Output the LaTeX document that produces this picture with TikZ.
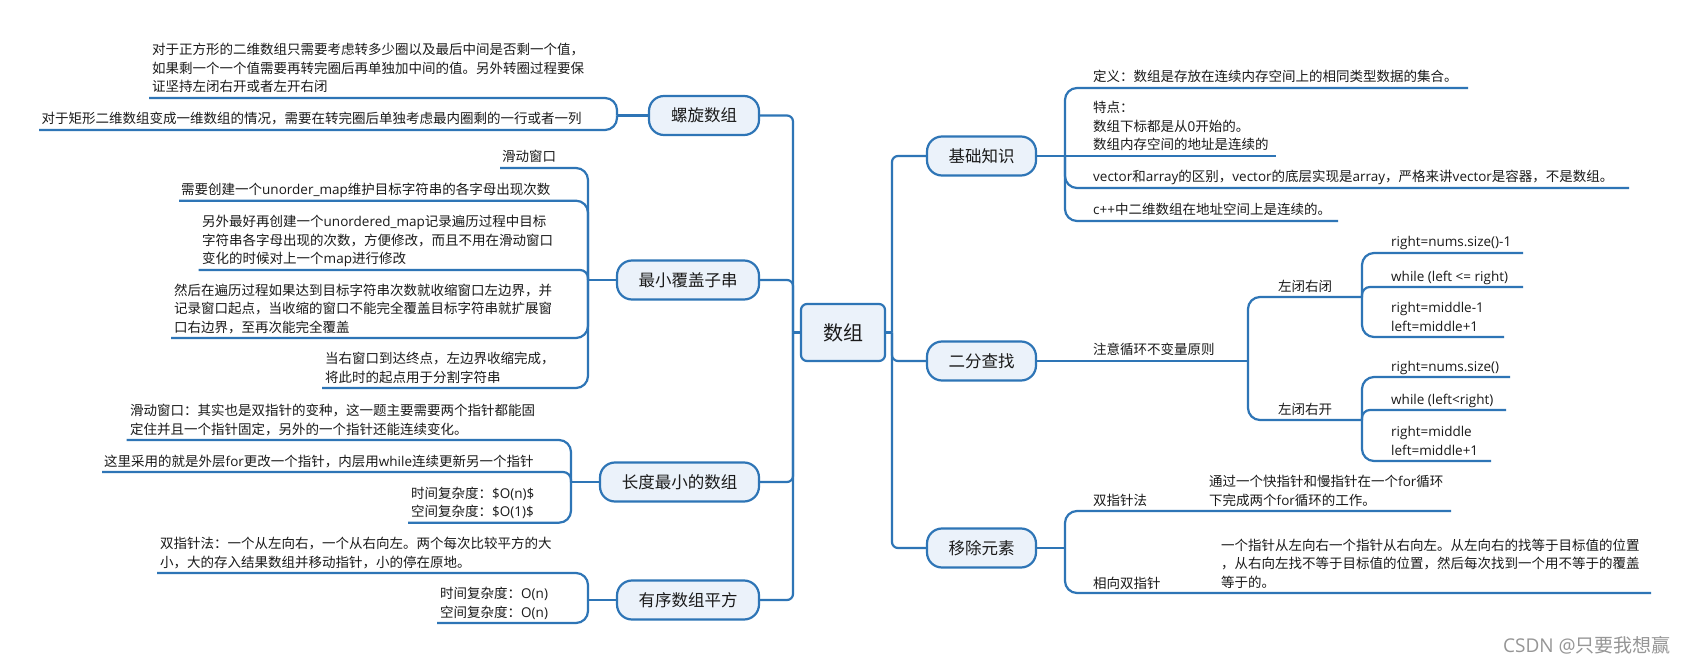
\documentclass[tikz,border=0pt]{standalone}
\usepackage{fontspec}
\setmainfont{Open Sans}
\newfontfamily\latf{Open Sans}
\newfontfamily\cjkf{Noto Sans CJK SC}
\definecolor{lineblue}{RGB}{46,117,182}
\definecolor{nodefill}{RGB}{235,242,250}
\definecolor{txt}{RGB}{26,26,26}
\definecolor{wmgray}{RGB}{150,150,150}
\newcommand\mlines[1]{\vbox{\baselineskip=18.5pt\lineskiplimit=-20pt\lineskip=0pt\halign{##\hfil\cr#1\crcr}}}
\makeatletter
\count@="4E00
\loop\XeTeXcharclass\count@=1 \advance\count@ by 1 \ifnum\count@<"A000 \repeat
\makeatother
\XeTeXcharclass"FF0C=1 \XeTeXcharclass"3002=1 \XeTeXcharclass"FF1A=1 \XeTeXcharclass"3001=1
\XeTeXinterchartoks 0 1 = {\cjkf}
\XeTeXinterchartoks 4095 1 = {\cjkf}
\XeTeXinterchartoks 1 0 = {\latf}
\XeTeXinterchartoks 4095 0 = {\latf}
\tikzset{
  conn/.style={draw=lineblue, line width=2.2pt},
  mainnode/.style={draw=lineblue, line width=2.2pt, fill=nodefill, rounded corners=15pt,
    minimum height=39pt, inner sep=0pt, text=txt, font=\cjkf\fontsize{16.5}{20}\selectfont},
  rootnode/.style={mainnode, rounded corners=6pt, minimum width=84pt, minimum height=57pt,
    font=\cjkf\fontsize{20}{24}\selectfont},
  leaf/.style={anchor=base west, inner sep=0pt, text=txt, font=\cjkf\fontsize{13.5}{18.5}\selectfont},
  wmark/.style={anchor=west, inner sep=0pt, text=wmgray, font=\cjkf\fontsize{19}{22}\selectfont},
}
\begin{document}
\begin{tikzpicture}[x=1pt,y=-1pt]
\XeTeXinterchartokenstate=1
\fill[white] (0,0) rectangle (1690,663);
\useasboundingbox (0,0) rectangle (1690,663);

% main nodes
\node[rootnode] (c) at (843,332.5) {数组};
\node[mainnode, minimum width=110pt] (l1) at (704,115.5) {螺旋数组};
\node[mainnode, minimum width=142pt] (l2) at (688,280) {最小覆盖子串};
\node[mainnode, minimum width=159pt] (l3) at (679.5,482) {长度最小的数组};
\node[mainnode, minimum width=142pt] (l4) at (688,600) {有序数组平方};
\node[mainnode, minimum width=109pt] (r1) at (981.5,156) {基础知识};
\node[mainnode, minimum width=109pt] (r2) at (981.5,361) {二分查找};
\node[mainnode, minimum width=109pt] (r3) at (981.5,548) {移除元素};

% trunks
\coordinate (tl) at (793,332.5);
\coordinate (tr) at (892,332.5);
\draw[conn] (c.west) -- (tl);
\draw[conn] (c.east) -- (tr);
\foreach \n in {l1,l2,l3,l4}{\draw[conn, rounded corners=6pt] (\n.east) -- (\n.east -| tl) -- (tl);}
\foreach \n in {r1,r2,r3}{\draw[conn, rounded corners=6pt] (\n.west) -- (\n.west -| tr) -- (tr);}

% ---------- left leaves ----------
\node[leaf] (a1) at (152,92) {\mlines{对于正方形的二维数组只需要考虑转多少圈以及最后中间是否剩一个值，\cr
如果剩一个一个值需要再转完圈后再单独加中间的值。另外转圈过程要保\cr
证坚持左闭右开或者左开右闭}};
\node[leaf] (a2) at (41.5,124) {\mlines{对于矩形二维数组变成一维数组的情况，需要在转完圈后单独考虑最内圈剩的一行或者一列}};

\node[leaf] (b1) at (502,162) {\mlines{滑动窗口}};
\node[leaf] (b2) at (181,194.7) {\mlines{需要创建一个unorder\_map维护目标字符串的各字母出现次数}};
\node[leaf] (b3) at (202,264) {\mlines{另外最好再创建一个unordered\_map记录遍历过程中目标\cr
字符串各字母出现的次数，方便修改，而且不用在滑动窗口\cr
变化的时候对上一个map进行修改}};
\node[leaf] (b4) at (174,332) {\mlines{然后在遍历过程如果达到目标字符串次数就收缩窗口左边界，并\cr
记录窗口起点，当收缩的窗口不能完全覆盖目标字符串就扩展窗\cr
口右边界，至再次能完全覆盖}};
\node[leaf] (b5) at (325,382) {\mlines{当右窗口到达终点，左边界收缩完成，\cr
将此时的起点用于分割字符串}};

\node[leaf] (d1) at (130,434) {\mlines{滑动窗口：其实也是双指针的变种，这一题主要需要两个指针都能固\cr
定住并且一个指针固定，另外的一个指针还能连续变化。}};
\node[leaf] (d2) at (104,466) {\mlines{这里采用的就是外层for更改一个指针，内层用while连续更新另一个指针}};
\node[leaf] (d3) at (411,516.7) {\mlines{时间复杂度：\$O(n)\$\cr 空间复杂度：\$O(1)\$}};

\node[leaf] (e1) at (160,567) {\mlines{双指针法：一个从左向右，一个从右向左。两个每次比较平方的大\cr
小，大的存入结果数组并移动指针，小的停在原地。}};
\node[leaf] (e2) at (440,617) {\mlines{时间复杂度：O(n)\cr 空间复杂度：O(n)}};

% left brackets
\coordinate (jl1) at (617,115.5);
\coordinate (jl2) at (588,280);
\coordinate (jl3) at (571,482);
\coordinate (jl4) at (588,600);
\draw[conn] (l1.west) -- (jl1);
\draw[conn] (l2.west) -- (jl2);
\draw[conn] (l3.west) -- (jl3);
\draw[conn] (l4.west) -- (jl4);

\coordinate (ua1) at (149,98);
\coordinate (ua2) at (39,130);
\coordinate (ub1) at (500,168);
\coordinate (ub2) at (179,200.7);
\coordinate (ub3) at (198.5,270);
\coordinate (ub4) at (171,338);
\coordinate (ub5) at (322,388);
\coordinate (ud1) at (126.5,440);
\coordinate (ud2) at (102,472);
\coordinate (ud3) at (408,522.7);
\coordinate (ue1) at (157,573);
\coordinate (ue2) at (437,623);

\draw[conn, rounded corners=12pt] (ua1) -- (ua1 -| jl1) -- (jl1);
\draw[conn, rounded corners=12pt] (ua2) -- (ua2 -| jl1) -- (jl1);
\draw[conn, rounded corners=12pt] (ub1) -- (ub1 -| jl2) -- (jl2);
\draw[conn, rounded corners=12pt] (ub2) -- (ub2 -| jl2) -- (jl2);
\draw[conn, rounded corners=8pt] (ub3) -- (ub3 -| jl2) -- (jl2);
\draw[conn, rounded corners=12pt] (ub4) -- (ub4 -| jl2) -- (jl2);
\draw[conn, rounded corners=12pt] (ub5) -- (ub5 -| jl2) -- (jl2);
\draw[conn, rounded corners=12pt] (ud1) -- (ud1 -| jl3) -- (jl3);
\draw[conn, rounded corners=8pt] (ud2) -- (ud2 -| jl3) -- (jl3);
\draw[conn, rounded corners=12pt] (ud3) -- (ud3 -| jl3) -- (jl3);
\draw[conn, rounded corners=12pt] (ue1) -- (ue1 -| jl4) -- (jl4);
\draw[conn, rounded corners=12pt] (ue2) -- (ue2 -| jl4) -- (jl4);

% ---------- right leaves ----------
\node[leaf] (f1) at (1093,82) {\mlines{定义：数组是存放在连续内存空间上的相同类型数据的集合。}};
\node[leaf] (f2) at (1093,150) {\mlines{特点：\cr 数组下标都是从0开始的。\cr 数组内存空间的地址是连续的}};
\node[leaf] (f3) at (1093,182) {\mlines{vector和array的区别，vector的底层实现是array，严格来讲vector是容器，不是数组。}};
\node[leaf] (f4) at (1093,215) {\mlines{c++中二维数组在地址空间上是连续的。}};

\node[leaf] (g0) at (1093,354) {\mlines{注意循环不变量原则}};
\node[leaf] (g1) at (1278,291) {\mlines{左闭右闭}};
\node[leaf] (g2) at (1278,414) {\mlines{左闭右开}};
\node[leaf] (h1) at (1391,247) {\mlines{right=nums.size()-1}};
\node[leaf] (h2) at (1391,281) {\mlines{while (left <= right)}};
\node[leaf] (h3) at (1391,331) {\mlines{right=middle-1\cr left=middle+1}};
\node[leaf] (k1) at (1391,371) {\mlines{right=nums.size()}};
\node[leaf] (k2) at (1391,404) {\mlines{while (left<right)}};
\node[leaf] (k3) at (1391,455) {\mlines{right=middle\cr left=middle+1}};

\node[leaf] (m1) at (1093,505) {\mlines{双指针法}};
\node[leaf] (m1c) at (1209,505) {\mlines{通过一个快指针和慢指针在一个for循环\cr 下完成两个for循环的工作。}};
\node[leaf] (m2) at (1093,588) {\mlines{相向双指针}};
\node[leaf] (m2c) at (1221,587) {\mlines{一个指针从左向右一个指针从右向左。从左向右的找等于目标值的位置\cr
，从右向左找不等于目标值的位置，然后每次找到一个用不等于的覆盖\cr 等于的。}};

% right brackets
\coordinate (jr1) at (1065,156);
\coordinate (jr2) at (1248,361);
\coordinate (jr3) at (1065,548);
\coordinate (jg1) at (1362,297);
\coordinate (jg2) at (1362,420);
\draw[conn] (r1.east) -- (jr1);
\draw[conn] (r2.east) -- (jr2);
\draw[conn] (r3.east) -- (jr3);

\coordinate (uf1) at (1468,88);
\coordinate (uf2) at (1276,156);
\coordinate (uf3) at (1629,188);
\coordinate (uf4) at (1338,221);
\draw[conn, rounded corners=12pt] (jr1) -- (jr1 |- uf1) -- (uf1);
\draw[conn] (jr1) -- (uf2);
\draw[conn, rounded corners=12pt] (jr1) -- (jr1 |- uf3) -- (uf3);
\draw[conn, rounded corners=12pt] (jr1) -- (jr1 |- uf4) -- (uf4);

\draw[conn, rounded corners=12pt] (jr2) -- (jr2 |- jg1) -- (jg1);
\draw[conn, rounded corners=12pt] (jr2) -- (jr2 |- jg2) -- (jg2);

\coordinate (uh1) at (1523,253);
\coordinate (uh2) at (1523,287);
\coordinate (uh3) at (1504,337);
\coordinate (uk1) at (1510,377);
\coordinate (uk2) at (1506,410);
\coordinate (uk3) at (1491,461);
\draw[conn, rounded corners=12pt] (jg1) -- (jg1 |- uh1) -- (uh1);
\draw[conn, rounded corners=8pt] (jg1) -- (jg1 |- uh2) -- (uh2);
\draw[conn, rounded corners=12pt] (jg1) -- (jg1 |- uh3) -- (uh3);
\draw[conn, rounded corners=12pt] (jg2) -- (jg2 |- uk1) -- (uk1);
\draw[conn, rounded corners=8pt] (jg2) -- (jg2 |- uk2) -- (uk2);
\draw[conn, rounded corners=12pt] (jg2) -- (jg2 |- uk3) -- (uk3);

\coordinate (um1) at (1451,511);
\coordinate (um2) at (1651,593);
\draw[conn, rounded corners=12pt] (jr3) -- (jr3 |- um1) -- (um1);
\draw[conn, rounded corners=12pt] (jr3) -- (jr3 |- um2) -- (um2);

% watermark
\node[wmark] (wm) at (1503,645) {CSDN @只要我想赢};
\end{tikzpicture}
\end{document}
